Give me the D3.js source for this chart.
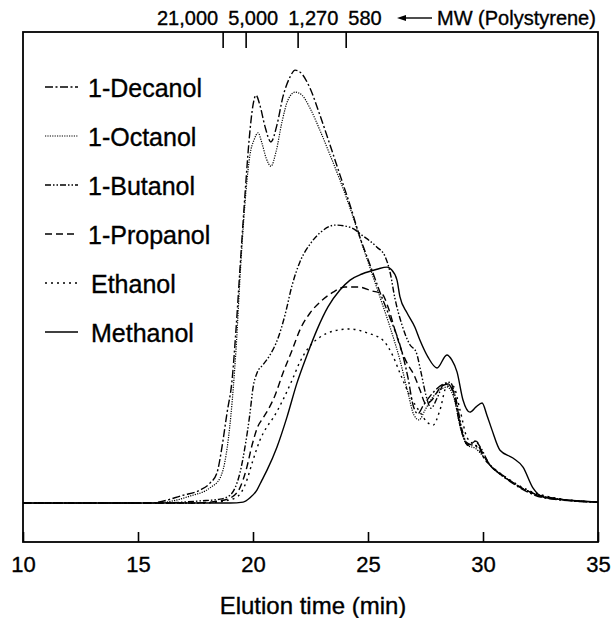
<!DOCTYPE html>
<html><head><meta charset="utf-8">
<script src="https://cdn.jsdelivr.net/npm/d3@7"></script>
<style>
body{margin:0;background:#fff}
svg{display:block}
text{font-family:"Liberation Sans",Arial,Helvetica,sans-serif;fill:#000;stroke:#000;stroke-width:0.35px}
</style>
</head><body>
<svg id="c" width="614" height="618"></svg>
<script>
// ---- data ----
const xTicks = [10, 15, 20, 25, 30, 35];
const mwLabels = ["21,000", "5,000", "1,270", "580"];
const mwTimes = [18.68, 19.68, 21.94, 24.03];
const seriesNames = ["1-Decanol", "1-Octanol", "1-Butanol", "1-Propanol", "Ethanol", "Methanol"];

const decanol = [[10,0],[15.52,0],[16.96,1.8],[17.7,3.0],[18.13,4.6],[18.43,6.9],[18.65,12.9],[18.87,20.8],[19.09,28.4],[19.26,40.0],[19.43,53.8],[19.65,71.1],[19.83,83.8],[20.0,91.9],[20.13,94.2],[20.3,91.9],[20.52,87.0],[20.78,83.4],[21.04,87.3],[21.3,93.8],[21.61,98.4],[21.83,100],[22.13,99.1],[22.48,95.8],[22.91,89.6],[23.35,82.7],[23.78,75.8],[24.22,68.8],[24.65,61.4],[25.09,55.0],[25.52,48.7],[25.96,42.7],[26.39,36.5],[26.74,28.9],[26.96,22.6],[27.17,20.6],[27.39,22.4],[27.7,24.7],[28.13,27.0],[28.43,27.7],[28.7,25.6],[29.0,18.0],[29.26,14.1],[29.52,13.4],[29.78,13.2],[30.04,10.4],[30.39,8.3],[30.96,5.8],[31.61,3.5],[32.26,1.8],[33.35,0.7],[35,0.2]];
const octanol = [[10,0],[15.74,0],[17.26,1.6],[18.13,3.5],[18.57,5.8],[18.83,11.1],[19.04,20.3],[19.26,35.3],[19.48,56.1],[19.7,72.3],[19.87,80.5],[20.04,83.8],[20.22,85.5],[20.39,83.1],[20.57,79.7],[20.78,77.8],[21.0,81.1],[21.26,88.0],[21.52,93.1],[21.83,94.9],[22.13,94.2],[22.48,91.2],[22.91,86.1],[23.35,80.4],[23.78,74.6],[24.22,68.1],[24.65,61.2],[25.09,54.3],[25.52,47.6],[25.96,40.6],[26.39,33.0],[26.74,25.4],[27.0,20.3],[27.22,19.2],[27.48,21.5],[27.78,24.2],[28.13,26.1],[28.43,26.8],[28.74,24.2],[29.04,16.9],[29.35,13.2],[29.65,12.7],[29.96,11.1],[30.3,8.8],[30.96,6.0],[31.61,3.7],[32.26,2.1],[33.35,0.9],[35,0.2]];
const butanol = [[10,0],[15.96,0],[17.7,0.5],[18.57,0.9],[19.0,1.8],[19.22,3.5],[19.43,6.9],[19.65,12.9],[19.87,20.8],[20.0,26.6],[20.17,30.0],[20.43,31.9],[20.74,34.2],[21.09,38.1],[21.39,43.4],[21.7,50.3],[22.04,55.7],[22.48,59.8],[22.91,62.4],[23.57,64.2],[24.22,63.7],[24.78,61.7],[25.39,59.1],[25.74,57.0],[25.96,53.3],[26.17,47.3],[26.48,41.1],[26.83,36.5],[27.09,34.9],[27.3,30.3],[27.52,24.9],[27.74,21.9],[28.0,24.2],[28.3,27.5],[28.57,27.9],[28.83,23.8],[29.09,16.9],[29.35,13.4],[29.65,14.3],[29.91,12.7],[30.22,9.5],[30.74,6.7],[31.39,4.4],[32.04,2.5],[32.91,1.2],[35,0.2]];
const propanol = [[10,0],[17.26,0],[18.57,0.5],[19.09,1.4],[19.43,3.5],[19.7,7.6],[19.96,13.4],[20.22,17.8],[20.43,19.6],[20.65,21.5],[20.96,24.9],[21.3,30.0],[21.7,35.3],[22.04,40.0],[22.48,43.9],[22.91,46.4],[23.48,48.7],[24.0,49.9],[24.57,49.9],[25.17,49.0],[25.61,48.3],[25.87,45.3],[26.17,40.0],[26.48,34.9],[26.74,31.9],[27.0,29.6],[27.26,26.1],[27.52,22.9],[27.78,23.8],[28.13,26.6],[28.48,27.5],[28.78,24.7],[29.09,16.2],[29.35,13.4],[29.7,14.3],[29.96,11.8],[30.3,8.8],[30.96,6.0],[31.61,3.7],[32.26,2.1],[33.35,0.9],[35,0.2]];
const ethanol = [[10,0],[17.7,0],[18.78,0.5],[19.35,1.6],[19.7,4.8],[20.0,9.9],[20.3,14.5],[20.57,17.3],[20.87,19.6],[21.3,23.8],[21.7,28.4],[22.04,32.6],[22.48,36.3],[22.91,38.3],[23.48,39.7],[24.22,40.2],[24.96,39.3],[25.65,37.6],[26.09,33.9],[26.39,30.0],[26.83,24.7],[27.26,21.0],[27.57,18.7],[27.83,18.0],[28.13,21.5],[28.43,27.0],[28.7,27.0],[29.0,21.5],[29.3,15.2],[29.74,12.9],[30.17,9.5],[30.74,6.9],[31.39,4.6],[32.04,2.8],[32.91,1.4],[35,0.2]];
const methanol = [[10,0],[19.0,0],[19.57,0.2],[19.87,1.2],[20.17,3.0],[20.39,5.3],[20.61,7.6],[21.04,12.9],[21.48,19.9],[21.91,27.7],[22.35,34.2],[22.78,40.0],[23.26,45.3],[23.78,49.2],[24.22,51.5],[24.74,52.9],[25.39,54.0],[25.83,54.5],[26.0,54.0],[26.26,51.5],[26.39,47.6],[26.7,43.9],[27.04,40.6],[27.26,37.6],[27.61,33.7],[28.0,31.2],[28.43,34.2],[28.65,33.0],[28.87,30.3],[29.13,23.8],[29.43,21.0],[29.7,22.2],[29.96,23.1],[30.17,20.3],[30.39,16.9],[30.74,12.2],[31.3,10.4],[31.74,8.3],[32.17,3.5],[32.61,1.4],[33.65,0.7],[35,0.2]];

const seriesData = [decanol, octanol, butanol, propanol, ethanol, methanol];

// ---- styles ----
const dashes = ["8,2.5,2,2.5", "1.2,1.2", "6,2,1.5,2,1.5,2", "7,4", "2,4", null];

// ---- layout ----
const svg = d3.select("#c");
const mL = 23, mR = 598, mT = 32, mB = 542;
const x = d3.scaleLinear().domain([10, 35]).range([mL, mR]);
const y = d3.scaleLinear().domain([-9, 108.8]).range([mB, mT]);

// frame
svg.append("rect").attr("x", mL).attr("y", mT).attr("width", mR - mL).attr("height", mB - mT)
  .attr("fill", "none").attr("stroke", "#000").attr("stroke-width", 1.8);

// bottom axis
const gx = svg.append("g").attr("transform", `translate(0,${mB})`)
  .call(d3.axisBottom(x).tickValues(xTicks).tickSize(-10).tickSizeOuter(0).tickPadding(14.5).tickFormat(d3.format("d")));
gx.select(".domain").remove();
gx.selectAll(".tick line").attr("stroke", "#000").attr("stroke-width", 1.6);
gx.selectAll(".tick text").attr("font-size", 22).attr("font-family", "Liberation Sans, Arial, sans-serif");

svg.append("text").attr("x", 313).attr("y", 614).attr("text-anchor", "middle")
  .attr("font-size", 24).text("Elution time (min)");

// top MW axis
const gt = svg.append("g").attr("transform", `translate(0,${mT})`)
  .call(d3.axisTop(x).tickValues(mwTimes).tickSize(-16).tickSizeOuter(0).tickFormat(""));
gt.select(".domain").remove();
gt.selectAll(".tick line").attr("stroke", "#000").attr("stroke-width", 1.6);

let cx = 157;
mwLabels.forEach(l => {
  const t = svg.append("text").attr("x", cx).attr("y", 25).attr("font-size", 20).text(l);
  cx += t.node().getComputedTextLength() + 10;
});
// arrow
svg.append("line").attr("x1", 404).attr("x2", 432).attr("y1", 18).attr("y2", 18).attr("stroke", "#000").attr("stroke-width", 1.4);
svg.append("path").attr("d", "M397,18 L406,15 L406,21 Z").attr("fill", "#000");
svg.append("text").attr("x", 437).attr("y", 25).attr("font-size", 20).text("MW (Polystyrene)");

// curves
const line = d3.line().x(d => x(d[0])).y(d => y(d[1])).curve(d3.curveMonotoneX);
seriesData.forEach((s, i) => {
  svg.append("path").datum(s).attr("d", line).attr("fill", "none")
    .attr("stroke", "#000").attr("stroke-width", i === 1 ? 1.2 : 1.4)
    .attr("stroke-dasharray", dashes[i]);
});

// legend
seriesNames.forEach((n, i) => {
  const by = 97 + i * 49;
  svg.append("line").attr("x1", 45).attr("x2", 78).attr("y1", by - 10).attr("y2", by - 10)
    .attr("stroke", "#000").attr("stroke-width", i === 1 ? 1.2 : 1.4).attr("stroke-dasharray", dashes[i]);
  svg.append("text").attr("x", i < 4 ? 88 : 91).attr("y", by).attr("font-size", 25).text(n);
});
</script>
</body></html>
